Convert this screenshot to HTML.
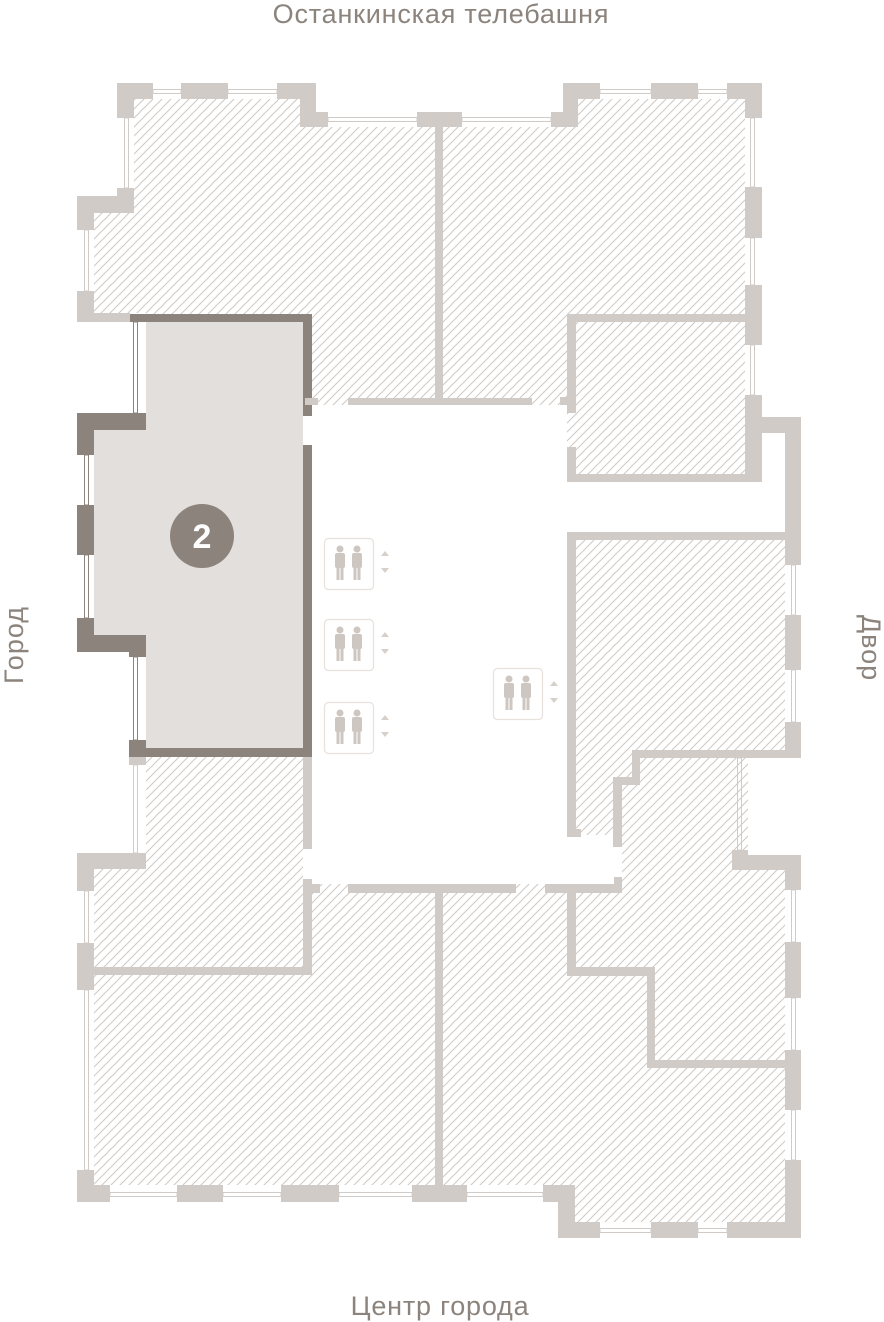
<!DOCTYPE html>
<html><head><meta charset="utf-8"><style>
html,body{margin:0;padding:0;background:#fff;}
svg{display:block;}
text{font-family:"Liberation Sans","DejaVu Sans",sans-serif;fill:#8c847c;}
</style></head><body>
<svg width="884" height="1322" viewBox="0 0 884 1322" xmlns="http://www.w3.org/2000/svg">
<defs>
<pattern id="h" patternUnits="userSpaceOnUse" width="9" height="9">
<path d="M-1,10 L10,-1 M-5,5 L5,-5 M4,14 L14,4" stroke="#cfc9c4" stroke-width="1"/>
</pattern>
<g id="lift">
<rect x="0.5" y="0.5" width="49" height="51" rx="4" fill="#fff" stroke="#e8e1dc" stroke-width="1.2"/>
<g fill="#cdc6c1">
<circle cx="16" cy="11" r="3.5"/><rect x="11" y="15" width="10" height="15" rx="2"/><rect x="12.5" y="28" width="3" height="14"/><rect x="16.5" y="28" width="3" height="14"/>
<circle cx="33" cy="11" r="3.5"/><rect x="28" y="15" width="10" height="15" rx="2"/><rect x="29.5" y="28" width="3" height="14"/><rect x="33.5" y="28" width="3" height="14"/>
</g>
<path d="M57,18 L61,13 L65,18 Z M57,30 L65,30 L61,35 Z" fill="#d6d0cb"/>
</g>
</defs>

<rect x="94" y="99" width="691" height="1123" fill="url(#h)"/>
<g fill="#fff">
<rect x="0" y="0" width="134" height="213"/>
<rect x="300" y="90" width="278" height="37"/>
<rect x="745" y="0" width="139" height="540"/>
<rect x="748" y="758" width="37" height="97"/>
<rect x="90" y="313" width="56" height="556"/>
<rect x="0" y="1185" width="558" height="137"/>
<rect x="558" y="1222" width="326" height="100"/>
<polygon points="303,405 567,405 567,482 785,482 785,532 576,532 576,835 622,835 622,884 312,884 312,879 303,879 303,849 312,849 312,445 303,445"/>
</g>

<polygon points="146,322 303,322 303,752 146,752 146,652 94,652 94,430 146,430" fill="#e3dfdc"/>
<g fill="#8c847c">
<rect x="129" y="314" width="183" height="8"/>
<rect x="303" y="314" width="9" height="102"/>
<rect x="303" y="445" width="9" height="312"/>
<rect x="129" y="748" width="183" height="9"/>
<rect x="129" y="740" width="17" height="17"/>
<polygon points="77,413 146,413 146,430 94,430 94,455 77,455"/>
<rect x="77" y="505" width="17" height="50"/>
<polygon points="77,618 94,618 94,635 146,635 146,657 129,657 129,652 77,652"/>
</g>
<g fill="none" stroke="#8c847c" stroke-width="1">
<rect x="133.5" y="322" width="4" height="91"/>
<rect x="84.5" y="455" width="4" height="50"/>
<rect x="84.5" y="555" width="4" height="63"/>
<rect x="133.5" y="657" width="4" height="83"/>
</g>

<g fill="none" stroke="#d0cbc6" stroke-width="1">
<rect x="153" y="89.5" width="28" height="4"/>
<rect x="228" y="89.5" width="49" height="4"/>
<rect x="328" y="117.5" width="89" height="4"/>
<rect x="462" y="117.5" width="89" height="4"/>
<rect x="600" y="89.5" width="51" height="4"/>
<rect x="698" y="89.5" width="29" height="4"/>
<rect x="124.5" y="118" width="4" height="70"/>
<rect x="84.5" y="230" width="4" height="61"/>
<rect x="750.5" y="118" width="4" height="69"/>
<rect x="750.5" y="238" width="4" height="47"/>
<rect x="750.5" y="345" width="4" height="50"/>
<rect x="791.5" y="565" width="4" height="50"/>
<rect x="791.5" y="670" width="4" height="52"/>
<rect x="737.5" y="758" width="4" height="92"/>
<rect x="791.5" y="890" width="4" height="52"/>
<rect x="791.5" y="998" width="4" height="52"/>
<rect x="791.5" y="1110" width="4" height="50"/>
<rect x="133.5" y="765" width="4" height="88"/>
<rect x="84.5" y="891" width="4" height="52"/>
<rect x="84.5" y="990" width="4" height="180"/>
<rect x="110" y="1192.5" width="67" height="4"/>
<rect x="223" y="1192.5" width="58" height="4"/>
<rect x="339" y="1192.5" width="73" height="4"/>
<rect x="467" y="1192.5" width="76" height="4"/>
<rect x="600" y="1228.5" width="51" height="4"/>
<rect x="698" y="1228.5" width="29" height="4"/>
</g>

<g fill="#d0cbc6">
<polygon points="117,83 153,83 153,99 134,99 134,118 117,118"/>
<rect x="181" y="83" width="47" height="16"/>
<polygon points="277,83 316,83 316,112 328,112 328,127 300,127 300,99 277,99"/>
<rect x="417" y="112" width="45" height="15"/>
<rect x="435" y="127" width="8" height="271"/>
<rect x="348" y="398" width="184" height="7"/>
<rect x="305" y="398" width="13" height="7"/>
<rect x="560" y="397" width="16" height="8"/>
<polygon points="117,188 134,188 134,213 94,213 94,230 77,230 77,196 117,196"/>
<rect x="77" y="291" width="17" height="31"/>
<rect x="77" y="313" width="53" height="9"/>
<polygon points="551,112 563,112 563,83 600,83 600,99 578,99 578,127 551,127"/>
<rect x="651" y="83" width="47" height="16"/>
<polygon points="727,83 762,83 762,118 745,118 745,99 727,99"/>
<rect x="745" y="187" width="17" height="51"/>
<rect x="745" y="285" width="17" height="60"/>
<rect x="567" y="314" width="178" height="8"/>
<rect x="567" y="314" width="9" height="99"/>
<rect x="567" y="447" width="9" height="35"/>
<rect x="567" y="474" width="195" height="8"/>
<rect x="745" y="395" width="17" height="87"/>
<rect x="762" y="417" width="39" height="16"/>
<rect x="785" y="417" width="16" height="148"/>
<rect x="567" y="532" width="234" height="8"/>
<rect x="567" y="532" width="9" height="303"/>
<rect x="567" y="829" width="14" height="8"/>
<rect x="785" y="615" width="16" height="55"/>
<rect x="785" y="722" width="16" height="36"/>
<rect x="632" y="750" width="169" height="8"/>
<rect x="632" y="750" width="8" height="35"/>
<rect x="613" y="777" width="27" height="8"/>
<rect x="613" y="777" width="9" height="70"/>
<polygon points="732,850 748,850 748,855 801,855 801,890 785,890 785,870 732,870"/>
<rect x="785" y="942" width="16" height="56"/>
<rect x="785" y="1050" width="16" height="60"/>
<rect x="545" y="884" width="77" height="9"/>
<rect x="614" y="877" width="8" height="16"/>
<rect x="348" y="884" width="168" height="9"/>
<rect x="303" y="884" width="17" height="9"/>
<rect x="567" y="893" width="9" height="82"/>
<rect x="567" y="967" width="88" height="9"/>
<rect x="647" y="967" width="8" height="101"/>
<rect x="647" y="1060" width="138" height="8"/>
<rect x="129" y="757" width="17" height="8"/>
<polygon points="77,853 146,853 146,869 94,869 94,891 77,891"/>
<rect x="303" y="757" width="9" height="92"/>
<rect x="303" y="879" width="9" height="96"/>
<rect x="94" y="967" width="218" height="8"/>
<rect x="77" y="943" width="17" height="47"/>
<polygon points="77,1170 94,1170 94,1185 110,1185 110,1202 77,1202"/>
<rect x="177" y="1185" width="46" height="17"/>
<rect x="281" y="1185" width="58" height="17"/>
<rect x="412" y="1185" width="55" height="17"/>
<rect x="435" y="893" width="8" height="292"/>
<polygon points="543,1185 575,1185 575,1222 600,1222 600,1238 558,1238 558,1202 543,1202"/>
<rect x="651" y="1222" width="47" height="16"/>
<polygon points="727,1222 785,1222 785,1160 801,1160 801,1238 727,1238"/>
</g>

<use href="#lift" x="324" y="538"/>
<use href="#lift" x="324" y="619"/>
<use href="#lift" x="324" y="702"/>
<use href="#lift" x="493" y="668"/>

<circle cx="202" cy="536" r="32" fill="#8c847c"/>
<text x="202" y="548" text-anchor="middle" font-size="34" font-weight="bold" style="fill:#fff">2</text>

<text x="441" y="23" text-anchor="middle" font-size="27" letter-spacing="0.8">Останкинская телебашня</text>
<text x="440" y="1315" text-anchor="middle" font-size="27" letter-spacing="0.8">Центр города</text>
<text transform="translate(23,645) rotate(-90)" text-anchor="middle" font-size="27" letter-spacing="1">Город</text>
<text transform="translate(862,648) rotate(90)" text-anchor="middle" font-size="27" letter-spacing="1">Двор</text>
</svg>
</body></html>
